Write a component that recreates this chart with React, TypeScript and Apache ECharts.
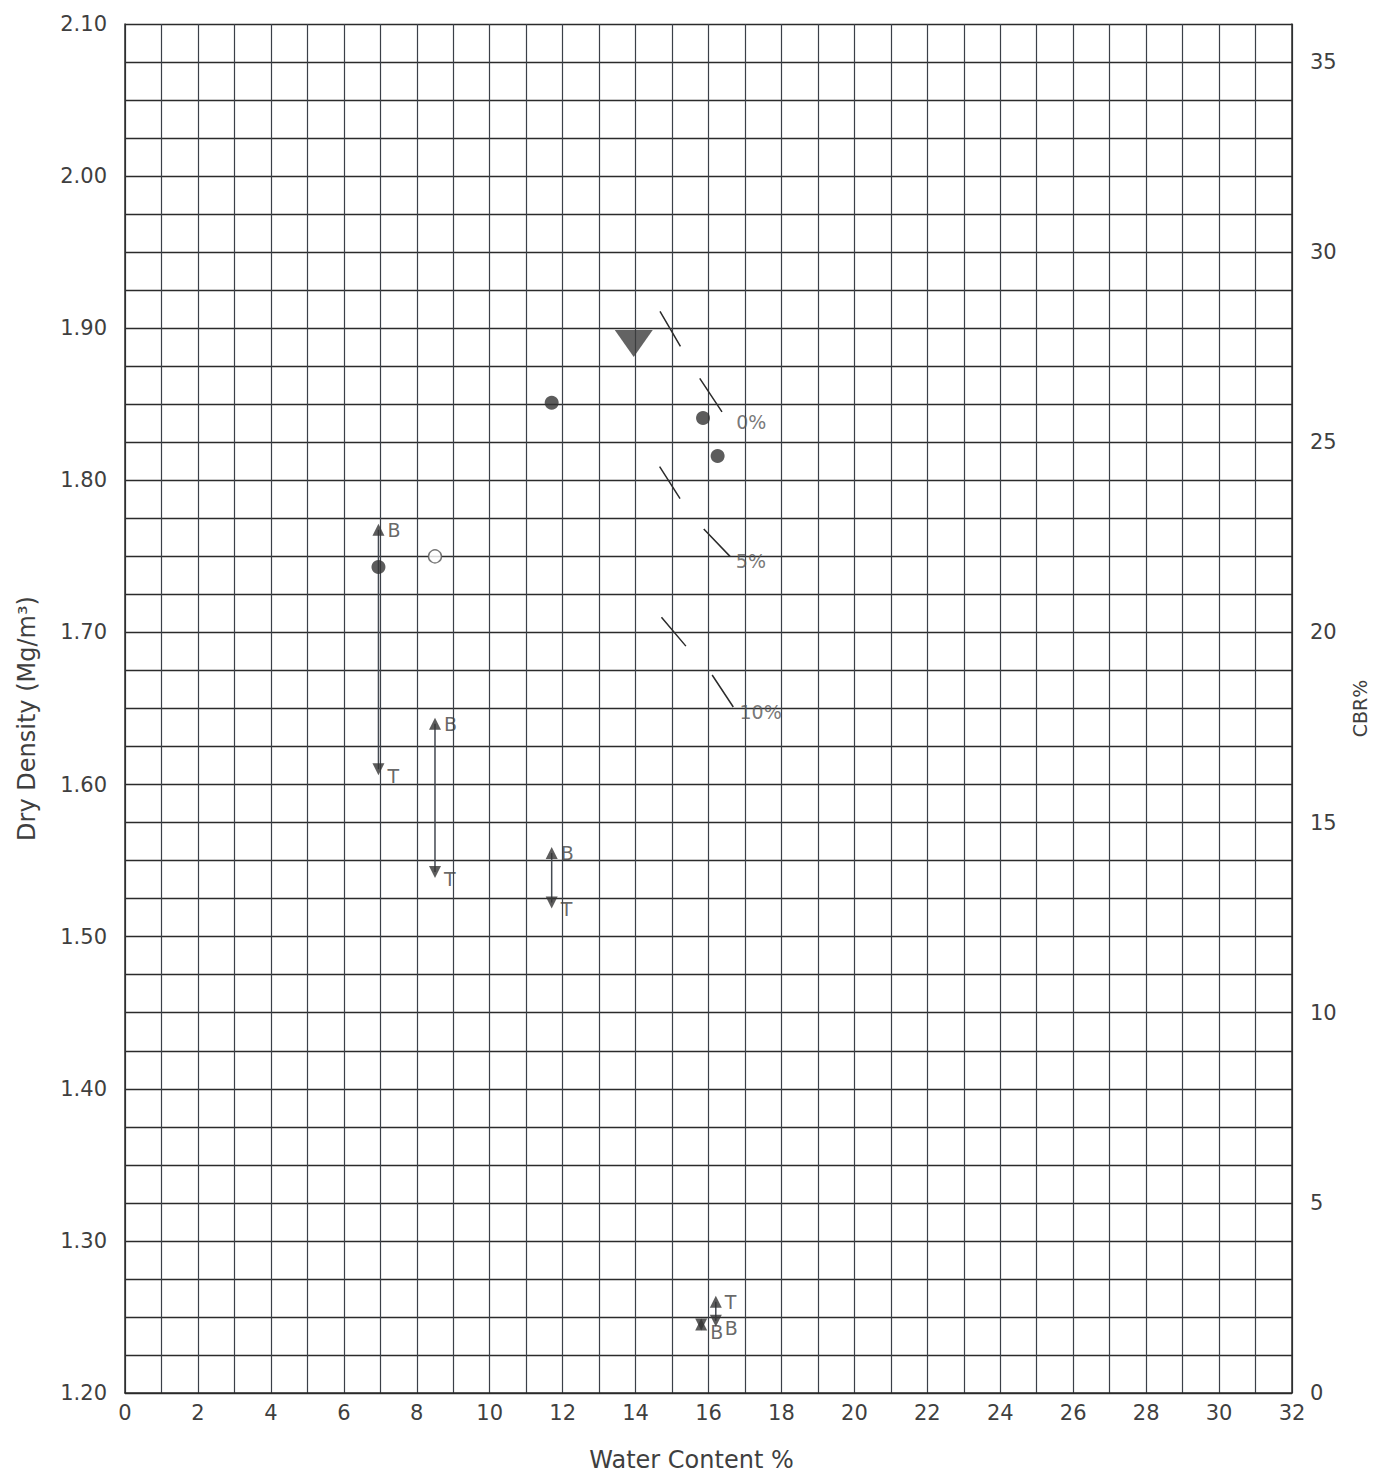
import React, { useEffect, useRef } from "react";
import * as echarts from "echarts";

// Compaction test points (water content %, dry density Mg/m3)
const compW = [6.95, 11.7, 15.85, 16.25];
const compD = [1.743, 1.851, 1.841, 1.816];
const openW = [8.5];
const openD = [1.75];
// Maximum dry density marker
const mddW = [13.95];
const mddD = [1.89];

// CBR results (right axis): upper and lower values, with labels
const cbrW = [6.95, 8.5, 11.7, 15.8, 16.2];
const cbrUpper = [22.7, 17.6, 14.2, 1.8, 2.4];
const cbrLower = [16.4, 13.7, 12.9, 1.8, 1.9];
const upperLabel = ["B", "B", "B", "", "T"];
const lowerLabel = ["T", "T", "T", "B", "B"];

// Air voids lines: short dashes (pairs of endpoints)
const av0 = [[14.67, 1.911], [15.23, 1.888], [15.76, 1.867], [16.37, 1.845]];
const av5 = [[14.66, 1.809], [15.22, 1.788], [15.87, 1.768], [16.59, 1.75]];
const av10 = [[14.71, 1.71], [15.38, 1.691], [16.1, 1.672], [16.68, 1.651]];
const avLabels = ["0%", "5%", "10%"];
const avLabelPos = [[16.76, 1.8386], [16.75, 1.747], [16.85, 1.648]];

const xTicks = { min: 0, max: 32, interval: 2 };
const yTicks = { min: 1.2, max: 2.1, interval: 0.1 };
const cbrTicks = { min: 0, max: 36, interval: 5 };

const FONT = "DejaVu Sans";
const TXT = "#3f3f3f";
const INK = "#2b2b2b";

function pairs(pts: number[][]) {
  const out: any[] = [];
  for (let i = 0; i < pts.length; i += 2) {
    out.push(pts[i], pts[i + 1], "-");
  }
  return out;
}

export default function App() {
  const ref = useRef<HTMLDivElement>(null);
  useEffect(() => {
    if (!ref.current) return;
    const chart = echarts.init(ref.current, undefined, { renderer: "svg" });

    const gridLine = { color: INK, width: 1.4 };
    const vertLine = { color: "#3b4048", width: 1.2 };

    const cbrLines: any[] = [];
    cbrW.forEach((w, i) => {
      cbrLines.push([w, cbrUpper[i]], [w, cbrLower[i]], "-");
    });

    const avSeries = [av0, av5, av10].map((pts, k) => ({
      type: "line",
      data: pairs(pts),
      symbol: "none",
      connectNulls: false,
      lineStyle: { color: INK, width: 1.5 },
      z: 4,
      silent: true,
      name: "av" + k,
    }));

    chart.setOption({
      animation: false,
      backgroundColor: "#ffffff",
      grid: { left: 125, right: 97, top: 24, bottom: 83, containLabel: false },
      xAxis: {
        type: "value",
        min: xTicks.min,
        max: xTicks.max,
        interval: xTicks.interval,
        name: "Water Content %",
        nameLocation: "middle",
        nameGap: 55,
        nameTextStyle: { fontFamily: FONT, fontSize: 24, color: TXT, padding: [0, 34, 0, 0] },
        axisLine: { show: true, lineStyle: { color: INK, width: 1.5 } },
        axisTick: { show: false },
        axisLabel: { fontFamily: FONT, fontSize: 21, color: TXT, margin: 9 },
        splitLine: { show: true, lineStyle: vertLine },
        minorTick: { show: false, splitNumber: 2 },
        minorSplitLine: { show: true, lineStyle: vertLine },
      },
      yAxis: [
        {
          type: "value",
          min: yTicks.min,
          max: yTicks.max,
          interval: yTicks.interval,
          name: "Dry Density (Mg/m\u00B3)",
          nameLocation: "middle",
          nameGap: 86,
          nameTextStyle: { fontFamily: FONT, fontSize: 24, color: TXT, padding: [0, 20, 0, 0] },
          axisLine: { show: true, lineStyle: { color: INK, width: 1.5 } },
          axisTick: { show: false },
          axisLabel: {
            fontFamily: FONT,
            fontSize: 21,
            color: TXT,
            margin: 18,
            formatter: (v: number) => v.toFixed(2),
          },
          splitLine: { show: true, lineStyle: gridLine },
          minorTick: { show: false, splitNumber: 4 },
          minorSplitLine: { show: true, lineStyle: gridLine },
        },
        {
          type: "value",
          position: "right",
          min: cbrTicks.min,
          max: cbrTicks.max,
          interval: cbrTicks.interval,
          name: "CBR%",
          nameLocation: "middle",
          nameRotate: 90,
          nameGap: 58,
          nameTextStyle: { fontFamily: FONT, fontSize: 19, color: TXT },
          axisLine: { show: true, lineStyle: { color: INK, width: 1.5 } },
          axisTick: { show: false },
          axisLabel: {
            fontFamily: FONT,
            fontSize: 21,
            color: TXT,
            margin: 18,
            formatter: (v: number) => (v % 5 === 0 ? String(v) : ""),
          },
          splitLine: { show: false },
        },
      ],
      series: [
        ...avSeries,
        {
          type: "scatter",
          name: "avLabels",
          data: avLabelPos.map((p, i) => ({ value: p, name: avLabels[i] })),
          symbolSize: 0,
          label: {
            show: true,
            position: "right",
            distance: 0,
            formatter: (p: any) => p.name,
            fontFamily: FONT,
            fontSize: 19,
            color: "#555",
          },
          silent: true,
          z: 5,
        },
        {
          type: "scatter",
          name: "compaction",
          data: compW.map((w, i) => [w, compD[i]]),
          symbol: "circle",
          symbolSize: 14,
          itemStyle: { color: "#333" },
          z: 6,
        },
        {
          type: "scatter",
          name: "open",
          data: openW.map((w, i) => [w, openD[i]]),
          symbol: "circle",
          symbolSize: 13,
          itemStyle: { color: "#fff", borderColor: "#555", borderWidth: 1.4 },
          z: 6,
        },
        {
          type: "scatter",
          name: "mdd",
          data: mddW.map((w, i) => [w, mddD[i]]),
          symbol: "triangle",
          symbolRotate: 180,
          symbolSize: [38, 27],
          itemStyle: { color: "#3c3c3c" },
          z: 6,
        },
        {
          type: "line",
          name: "cbrLinks",
          yAxisIndex: 1,
          data: cbrLines,
          symbol: "none",
          connectNulls: false,
          lineStyle: { color: "#444a52", width: 1.5 },
          z: 5,
        },
        {
          type: "scatter",
          name: "cbrUpper",
          yAxisIndex: 1,
          data: cbrW.map((w, i) => ({ value: [w, cbrUpper[i]], name: upperLabel[i] })),
          symbol: "triangle",
          symbolSize: 12,
          itemStyle: { color: "#333" },
          label: {
            show: true,
            position: "right",
            distance: 3,
            formatter: (p: any) => p.name,
            fontFamily: FONT,
            fontSize: 19,
            color: TXT,
          },
          z: 7,
        },
        {
          type: "scatter",
          name: "cbrLower",
          yAxisIndex: 1,
          data: cbrW.map((w, i) => ({ value: [w, cbrLower[i]], name: lowerLabel[i] })),
          symbol: "triangle",
          symbolRotate: 180,
          symbolSize: 12,
          itemStyle: { color: "#333" },
          label: {
            show: true,
            position: "right",
            distance: 3,
            offset: [0, 7],
            formatter: (p: any) => p.name,
            fontFamily: FONT,
            fontSize: 19,
            color: TXT,
          },
          z: 7,
        },
      ],
    });

    return () => chart.dispose();
  }, []);

  return (
    <div
      ref={ref}
      style={{ position: "absolute", left: 0, top: 0, width: 1389, height: 1477, background: "#fff" }}
    />
  );
}
